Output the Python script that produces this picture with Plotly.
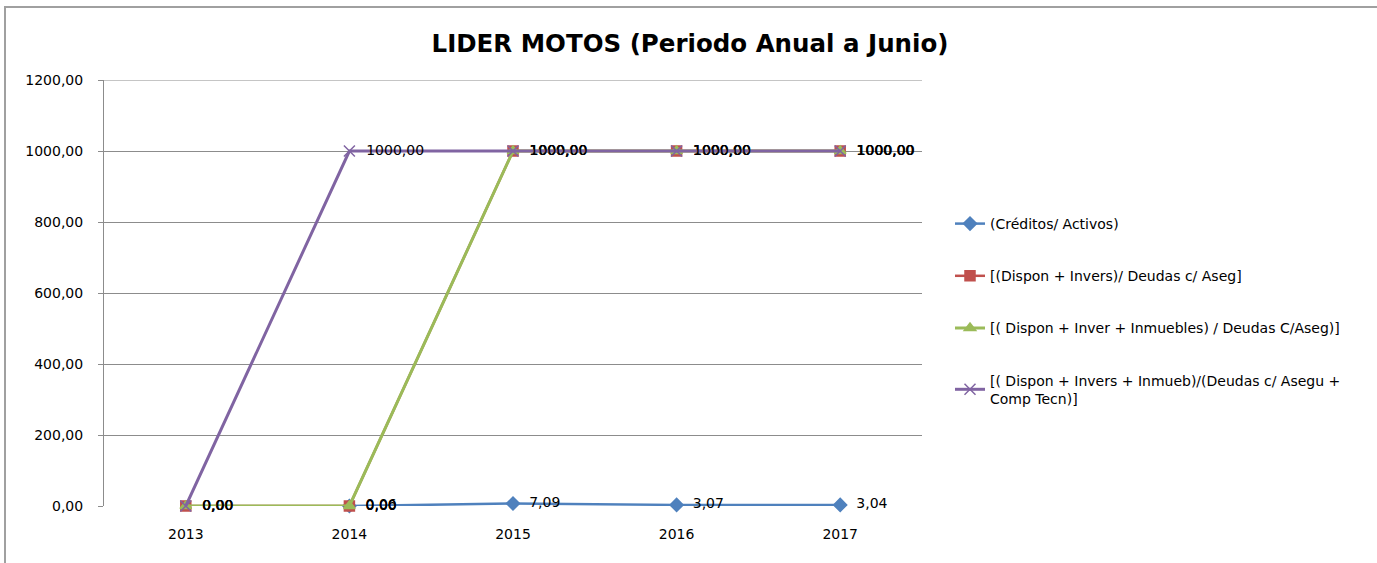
import plotly.graph_objects as go

years = ["2013", "2014", "2015", "2016", "2017"]
creditos = [None, 0.06, 7.09, 3.07, 3.04]
dispon_invers = [0.0, 0.0, 1000.0, 1000.0, 1000.0]
dispon_inver_inm = [0.0, 0.0, 1000.0, 1000.0, 1000.0]
dispon_invers_inm_comp = [0.0, 1000.0, 1000.0, 1000.0, 1000.0]

names = [
    "(Créditos/ Activos)",
    "[(Dispon + Invers)/ Deudas c/ Aseg]",
    "[( Dispon + Inver + Inmuebles) / Deudas C/Aseg)]",
    "[( Dispon + Invers + Inmueb)/(Deudas c/ Asegu +<br>Comp Tecn)]",
]
colors = ["#4F81BD", "#C0504D", "#9BBB59", "#8064A2"]
symbols = ["diamond", "square", "triangle-up", "x-thin"]
widths = [2.5, 2.5, 3, 3]
series = [creditos, dispon_invers, dispon_inver_inm, dispon_invers_inm_comp]

FONT = "DejaVu Sans, Liberation Sans, Arial"


def fmt(v):
    return "" if v is None else "\u00a0\u00a0" + f"{v:.2f}".replace(".", ",")


fig = go.Figure()
for i, (nm, col, sym, w, vals) in enumerate(zip(names, colors, symbols, widths, series)):
    fig.add_trace(go.Scatter(
        x=years, y=vals, name=nm, mode="lines+markers+text",
        line=dict(color=col, width=w),
        marker=dict(symbol=sym, size=10 if sym != "x-thin" else 11, color=col,
                    line=dict(color=col, width=1.5)),
        text=[fmt(v) for v in vals], textposition="middle right",
        textfont=dict(family=FONT, size=14, color="#000000"),
        legendgroup=f"g{i}", cliponaxis=False,
    ))

fig.update_layout(
    width=1377, height=563,
    margin=dict(l=104, r=455, t=80, b=57),
    paper_bgcolor="white", plot_bgcolor="white",
    separators=",.",
    title=dict(text="<b>LIDER MOTOS (Periodo Anual a Junio)</b>", x=690 / 1377, xref="container",
               y=1 - 43 / 563, yref="container", xanchor="center", yanchor="middle",
               font=dict(family=FONT, size=24.5, color="#000000")),
    font=dict(family=FONT, size=14, color="#000000"),
    showlegend=True,
    legend=dict(x=(950 - 104) / 818, y=(506 - 208) / 426, xanchor="left", yanchor="top",
                tracegroupgap=31,
                font=dict(family=FONT, size=14, color="#000000"),
                itemwidth=30),
    xaxis=dict(type="category", range=[-0.5, 4.5], showgrid=False, showline=False,
               ticks="", tickfont=dict(size=14), ticklabelstandoff=18),
    yaxis=dict(range=[0, 1200], dtick=200, tickformat=".2f", showgrid=True,
               gridcolor="#8C8C8C", gridwidth=1, showline=True, linecolor="#8C8C8C",
               ticks="outside", ticklen=5, tickcolor="#8C8C8C", zeroline=False,
               tickfont=dict(size=14), ticklabelstandoff=12),
    shapes=[
        dict(type="rect", xref="paper", yref="paper",
             x0=(5 - 104) / 818, x1=(1390 - 104) / 818,
             y0=(506 - 580) / 426, y1=(506 - 7) / 426,
             line=dict(color="#A0A0A0", width=2), fillcolor="rgba(0,0,0,0)", layer="below"),
        dict(type="line", xref="paper", yref="y", x0=0, x1=1, y0=1200, y1=1200,
             line=dict(color="#8C8C8C", width=1), layer="below"),
    ],
)

fig.write_html("out.html", config={"displayModeBar": False},
               post_script="document.body.style.margin='0';")
